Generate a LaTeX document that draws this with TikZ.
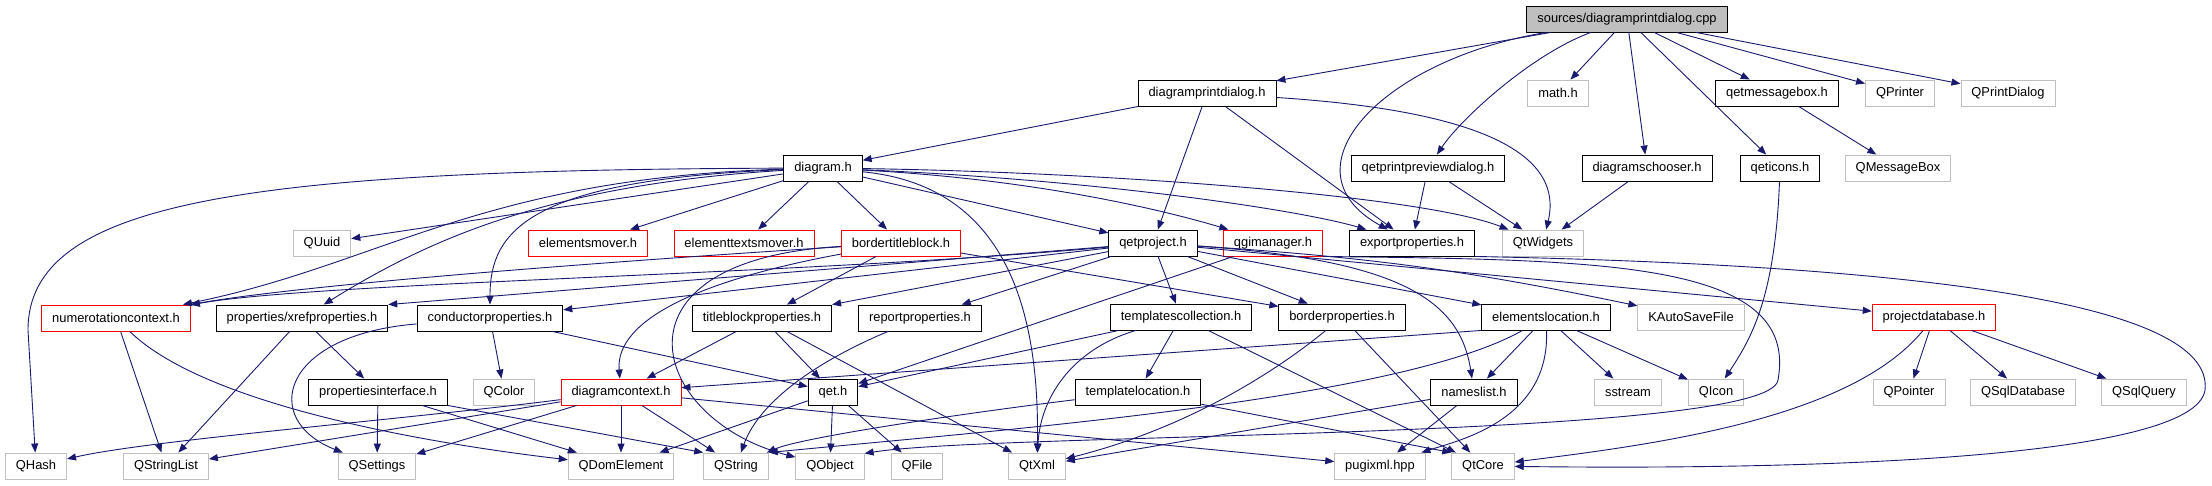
\documentclass[tikz,border=0pt]{standalone}
\usepackage{fontspec}
\setmainfont{Liberation Sans}
\usetikzlibrary{arrows.meta}

\definecolor{kantenblau}{HTML}{191970}
\definecolor{randgrau}{HTML}{BFBFBF}
\definecolor{randrot}{HTML}{FF0000}

\begin{document}
\begin{tikzpicture}[x=1pt, y=-1pt,
        datei/.style={draw=black, line width=0.9pt, fill=white, minimum height=26pt,
            inner xsep=10.5pt, inner ysep=0pt, font=\fontsize{12.9pt}{15pt}\selectfont},
        extern/.style={datei, draw=randgrau},
        gekappt/.style={datei, draw=randrot},
        wurzel/.style={datei, fill=randgrau},
        kante/.style={draw=kantenblau, line width=0.9pt, -{Triangle[length=9pt, width=7pt]}}]

        % Hintergrund und Rahmen
        \fill[white] (0,0) rectangle (2212,485);
        \useasboundingbox (0,0) rectangle (2212,485);

        % Wurzel und erste Ebene
        \node[wurzel] (root) at (1627,19) {sources/diagramprintdialog.cpp};
        \node[datei] (dpd) at (1207,93) {diagramprintdialog.h};
        \node[extern] (mathh) at (1558,93) {math.h};
        \node[datei] (qmb) at (1777,93) {qetmessagebox.h};
        \node[extern] (qprinter) at (1900,93) {QPrinter};
        \node[extern] (qprintdialog) at (2008,93) {QPrintDialog};

        % Zweite Ebene
        \node[datei] (diagram) at (823,168) {diagram.h};
        \node[datei] (qppd) at (1428,168) {qetprintpreviewdialog.h};
        \node[datei] (dchooser) at (1647,168) {diagramschooser.h};
        \node[datei] (qeticons) at (1780,168) {qeticons.h};
        \node[extern] (qmessagebox) at (1898,168) {QMessageBox};

        % Dritte Ebene
        \node[extern] (quuid) at (322,243) {QUuid};
        \node[gekappt] (emover) at (588,243) {elementsmover.h};
        \node[gekappt] (etmover) at (744,243) {elementtextsmover.h};
        \node[gekappt] (btb) at (901,243) {bordertitleblock.h};
        \node[datei] (qetproject) at (1153,243) {qetproject.h};
        \node[gekappt] (qgim) at (1273,243) {qgimanager.h};
        \node[datei] (exportp) at (1412,243) {exportproperties.h};
        \node[extern] (qtwidgets) at (1543,243) {QtWidgets};

        % Vierte Ebene
        \node[gekappt] (numctx) at (116,318) {numerotationcontext.h};
        \node[datei] (xref) at (302,318) {properties/xrefproperties.h};
        \node[datei] (condp) at (490,318) {conductorproperties.h};
        \node[datei] (tbp) at (762,318) {titleblockproperties.h};
        \node[datei] (reportp) at (920,318) {reportproperties.h};
        \node[datei] (tcoll) at (1181,317) {templatescollection.h};
        \node[datei] (borderp) at (1342,317) {borderproperties.h};
        \node[datei] (eloc) at (1546,317) {elementslocation.h};
        \node[extern] (kauto) at (1691,317) {KAutoSaveFile};
        \node[gekappt] (pdb) at (1934,317) {projectdatabase.h};

        % Fuenfte Ebene
        \node[datei] (propif) at (378,392) {propertiesinterface.h};
        \node[extern] (qcolor) at (504,392) {QColor};
        \node[gekappt] (dctx) at (621,392) {diagramcontext.h};
        \node[datei] (qeth) at (833,392) {qet.h};
        \node[datei] (tloc) at (1138,392) {templatelocation.h};
        \node[datei] (nameslist) at (1474,392) {nameslist.h};
        \node[extern] (sstream) at (1628,392) {sstream};
        \node[extern] (qicon) at (1716,392) {QIcon};
        \node[extern] (qpointer) at (1909,392) {QPointer};
        \node[extern] (qsqldb) at (2023,392) {QSqlDatabase};
        \node[extern] (qsqlquery) at (2144,392) {QSqlQuery};

        % Unterste Ebene
        \node[extern] (qhash) at (36,466) {QHash};
        \node[extern] (qstringlist) at (166,466) {QStringList};
        \node[extern] (qsettings) at (377,466) {QSettings};
        \node[extern] (qdomelement) at (621,466) {QDomElement};
        \node[extern] (qstring) at (736,466) {QString};
        \node[extern] (qobject) at (830,466) {QObject};
        \node[extern] (qfile) at (917,466) {QFile};
        \node[extern] (qtxml) at (1037,466) {QtXml};
        \node[extern] (pugixml) at (1380,466) {pugixml.hpp};
        \node[extern] (qtcore) at (1483,466) {QtCore};

        % Kanten der Wurzel
        \draw[kante] (root) -- (dpd);
        \draw[kante] (root) .. controls (1380,60) and (1280,170) .. (exportp);
        \draw[kante] (root) .. controls (1530,55) and (1460,120) .. (qppd);
        \draw[kante] (root) -- (mathh);
        \draw[kante] (root) -- (dchooser);
        \draw[kante] (root) -- (qeticons);
        \draw[kante] (root) -- (qmb);
        \draw[kante] (root) -- (qprinter);
        \draw[kante] (root) -- (qprintdialog);

        % Kanten der zweiten Ebene
        \draw[kante] (dpd) -- (diagram);
        \draw[kante] (dpd) -- (qetproject);
        \draw[kante] (dpd) -- (exportp);
        \draw[kante] (dpd) .. controls (1470,110) and (1565,150) .. (qtwidgets);
        \draw[kante] (qppd) -- (exportp);
        \draw[kante] (qppd) -- (qtwidgets);
        \draw[kante] (dchooser) -- (qtwidgets);
        \draw[kante] (qeticons) .. controls (1775,300) and (1750,340) .. (qicon);
        \draw[kante] (qmb) -- (qmessagebox);

        % Kanten von diagram.h
        \draw[kante] (diagram) .. controls (250,170) and (28,200) .. (28,330) -- (qhash);
        \draw[kante] (diagram) -- (quuid);
        \draw[kante] (diagram) .. controls (480,178) and (380,265) .. (numctx);
        \draw[kante] (diagram) .. controls (540,185) and (420,245) .. (xref);
        \draw[kante] (diagram) .. controls (530,180) and (490,230) .. (condp);
        \draw[kante] (diagram) -- (emover);
        \draw[kante] (diagram) -- (etmover);
        \draw[kante] (diagram) -- (btb);
        \draw[kante] (diagram) .. controls (1000,185) and (1040,300) .. (qtxml);
        \draw[kante] (diagram) -- (qetproject);
        \draw[kante] (diagram) .. controls (1050,180) and (1180,215) .. (qgim);
        \draw[kante] (diagram) .. controls (1100,180) and (1300,210) .. (exportp);
        \draw[kante] (diagram) .. controls (1100,172) and (1420,195) .. (qtwidgets);

        % Kanten von bordertitleblock.h
        \draw[kante] (btb) .. controls (600,262) and (300,285) .. (numctx);
        \draw[kante] (btb) .. controls (700,280) and (615,320) .. (dctx);
        \draw[kante] (btb) .. controls (600,260) and (650,420) .. (qobject);
        \draw[kante] (btb) -- (tbp);
        \draw[kante] (btb) -- (borderp);

        % Kanten von qetproject.h
        \draw[kante] (qetproject) .. controls (800,275) and (320,282) .. (numctx);
        \draw[kante] (qetproject) -- (xref.north east);
        \draw[kante] (qetproject) -- (condp);
        \draw[kante] (qetproject) -- (tbp);
        \draw[kante] (qetproject) -- (reportp);
        \draw[kante] (qetproject) -- (tcoll);
        \draw[kante] (qetproject) -- (borderp);
        \draw[kante] (qetproject) .. controls (1400,260) and (1460,300) .. (nameslist);
        \draw[kante] (qetproject) -- (eloc);
        \draw[kante] (qetproject) to[bend left=4] (kauto);
        \draw[kante] (qetproject) -- (pdb);

        % Kanten von qgimanager.h und exportproperties.h
        \draw[kante] (qgim) -- (qeth);
        \draw[kante] (qgim.south east) .. controls (1600,260) and (1800,260) .. (1778,380)
            .. controls (1770,440) and (1000,432) .. (qobject.20);
        \draw[kante] (exportp.south east) .. controls (1900,265) and (2215,300) .. (2205,390)
            .. controls (2195,460) and (1800,470) .. (qtcore);

        % Kanten der vierten Ebene
        \draw[kante] (numctx) -- (qstringlist);
        \draw[kante] (numctx) .. controls (200,400) and (400,440) .. (qdomelement);
        \draw[kante] (xref) -- (qstringlist);
        \draw[kante] (xref) -- (propif);
        \draw[kante] (condp) .. controls (280,335) and (260,420) .. (qsettings);
        \draw[kante] (condp) -- (qcolor);
        \draw[kante] (condp) -- (qeth);
        \draw[kante] (tbp) -- (dctx);
        \draw[kante] (tbp) -- (qeth);
        \draw[kante] (tbp) -- (qtxml);
        \draw[kante] (reportp) .. controls (820,360) and (760,400) .. (qstring);
        \draw[kante] (tcoll) -- (qeth);
        \draw[kante] (tcoll) -- (tloc);
        \draw[kante] (tcoll) .. controls (1070,350) and (1040,400) .. (qtxml);
        \draw[kante] (tcoll) -- (qtcore);
        \draw[kante] (borderp) .. controls (1290,360) and (1200,425) .. (qtxml);
        \draw[kante] (borderp) -- (qtcore);
        \draw[kante] (eloc.south west) -- (dctx);
        \draw[kante] (eloc) .. controls (1400,400) and (1000,430) .. (qstring.north east);
        \draw[kante] (eloc) -- (nameslist);
        \draw[kante] (eloc) .. controls (1550,420) and (1460,440) .. (pugixml);
        \draw[kante] (eloc) -- (sstream);
        \draw[kante] (eloc) -- (qicon);
        \draw[kante] (pdb) .. controls (1850,420) and (1650,445) .. (qtcore);
        \draw[kante] (pdb) -- (qpointer);
        \draw[kante] (pdb) -- (qsqldb);
        \draw[kante] (pdb) -- (qsqlquery);

        % Kanten der fuenften Ebene
        \draw[kante] (propif) -- (qsettings);
        \draw[kante] (propif) -- (qdomelement);
        \draw[kante] (propif.south east) -- (qstring.north west);
        \draw[kante] (dctx) .. controls (400,420) and (150,440) .. (qhash);
        \draw[kante] (dctx) -- (qstringlist);
        \draw[kante] (dctx) -- (qsettings);
        \draw[kante] (dctx) -- (qdomelement);
        \draw[kante] (dctx) -- (qstring);
        \draw[kante] (dctx) -- (pugixml);
        \draw[kante] (qeth) -- (qdomelement);
        \draw[kante] (qeth) -- (qobject);
        \draw[kante] (qeth) -- (qfile);
        \draw[kante] (tloc) .. controls (950,415) and (800,438) .. (qstring);
        \draw[kante] (tloc) -- (qtcore.north west);
        \draw[kante] (nameslist) -- (qtxml);
        \draw[kante] (nameslist) -- (pugixml);

    \end{tikzpicture}
\end{document}
